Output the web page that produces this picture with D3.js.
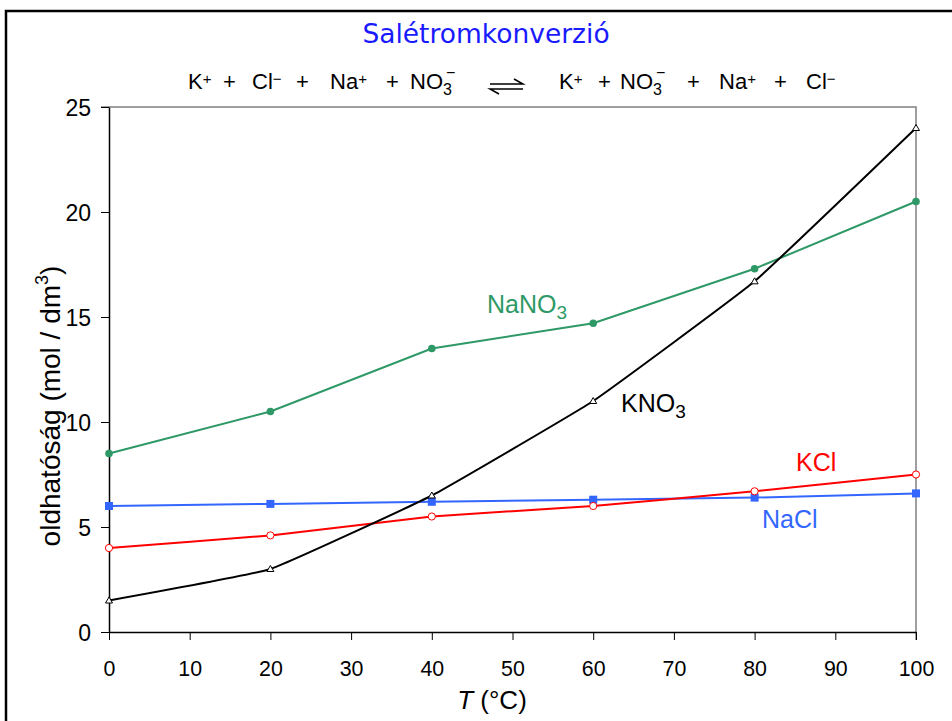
<!DOCTYPE html>
<html><head><meta charset="utf-8">
<script src="https://cdn.jsdelivr.net/npm/d3@7"></script>
<style>body{margin:0;background:#fff}svg{display:block}</style>
</head><body>
<svg id="c" width="952" height="721"></svg>
<script>
const temps = [0, 20, 40, 60, 80, 100];
const KNO3 = [1.5, 3.0, 6.5, 11.0, 16.7, 24.0];
const NaNO3 = [8.5, 10.5, 13.5, 14.7, 17.3, 20.5];
const KCl = [4.0, 4.6, 5.5, 6.0, 6.7, 7.5];
const NaCl = [6.0, 6.1, 6.2, 6.3, 6.4, 6.6];
const xTicks = [0,10,20,30,40,50,60,70,80,90,100];
const yTicks = [0,5,10,15,20,25];

const svg = d3.select("#c");
const F = "'Liberation Sans', Arial, Helvetica, sans-serif";
// outer frame
svg.append("rect").attr("x",6).attr("y",11).attr("width",960).attr("height",740)
  .attr("fill","none").attr("stroke","#000").attr("stroke-width",2.5);

const x = d3.scaleLinear().domain([0,100]).range([109,916]);
const y = d3.scaleLinear().domain([0,25]).range([632,107]);

// plot frame top/right (gray)
svg.append("path").attr("d",`M${x(0)},${y(25)}H${x(100)}V${y(0)+8}`)
  .attr("fill","none").attr("stroke","#808080").attr("stroke-width",1.5);
svg.append("line").attr("x1",x(0)-8).attr("x2",x(0)).attr("y1",y(25)).attr("y2",y(25))
  .attr("stroke","#808080").attr("stroke-width",1.5);

// axes
const gx = svg.append("g").attr("transform",`translate(0,${y(0)})`)
  .call(d3.axisBottom(x).tickValues(xTicks).tickSize(8).tickPadding(20).tickSizeOuter(0));
const gy = svg.append("g").attr("transform",`translate(${x(0)},0)`)
  .call(d3.axisLeft(y).tickValues(yTicks).tickSize(8).tickPadding(10).tickSizeOuter(0));
[gx,gy].forEach(g=>{
  g.select(".domain").attr("stroke","#000").attr("stroke-width",1.5);
  g.selectAll(".tick line").attr("stroke","#000").attr("stroke-width",1);
  g.selectAll(".tick text").attr("font-family",F).attr("font-size",23).attr("fill","#000");
});
gx.selectAll(".tick text").attr("transform","scale(0.93,1)");
gy.selectAll(".tick text").attr("dy","0.36em");

// axis titles
const xt = svg.append("text").attr("x",492).attr("y",709).attr("text-anchor","middle")
  .attr("font-family",F).attr("font-size",26);
xt.append("tspan").attr("font-style","italic").text("T");
xt.append("tspan").text(" (°C)");

const yt = svg.append("text").attr("transform","translate(60,406) rotate(-90)")
  .attr("text-anchor","middle").attr("font-family",F).attr("font-size",28);
yt.append("tspan").text("oldhatóság (mol / dm");
yt.append("tspan").attr("font-size",18).attr("dy",-12).text("3");
yt.append("tspan").attr("dy",12).text(")");

// title
svg.append("text").attr("x",486).attr("y",43).attr("text-anchor","middle")
  .attr("font-family","'DejaVu Sans',sans-serif").attr("font-size",26.5)
  .attr("fill","#1a1aff").text("Salétromkonverzió");

// equation
const eqY = 89;
const eq = svg.append("g").attr("font-family",F).attr("font-size",22).attr("fill","#000");
function ion(xp, base, sup){
  const t = eq.append("text").attr("x",xp).attr("y",eqY);
  t.append("tspan").text(base);
  t.append("tspan").attr("font-size",15).attr("dy",-5).text(sup);
}
function plus(xp){ eq.append("text").attr("x",xp).attr("y",eqY).text("+"); }
function nitrate(xp){
  const t = eq.append("text").attr("x",xp).attr("y",eqY);
  t.append("tspan").text("NO");
  t.append("tspan").attr("font-size",16).attr("dy",6).text("3");
  eq.append("text").attr("x",xp+36).attr("y",eqY-11).attr("font-size",16).text("−");
}
ion(188,"K","+"); plus(223); ion(252,"Cl","−"); plus(296); ion(330,"Na","+"); plus(386); nitrate(410);
ion(559,"K","+"); plus(598); nitrate(620); plus(687); ion(719,"Na","+"); plus(774); ion(806,"Cl","−");
// equilibrium arrows
eq.append("path").attr("d","M490,84H523L514,79").attr("fill","none").attr("stroke","#000").attr("stroke-width",1.5);
eq.append("path").attr("d","M523,89H490L499,94").attr("fill","none").attr("stroke","#000").attr("stroke-width",1.5);

// series
const series = [
  {name:"NaCl", vals:NaCl, color:"#3366ff", curve:d3.curveLinear, marker:"square"},
  {name:"KCl", vals:KCl, color:"#ff0000", curve:d3.curveCardinal.tension(0.7), marker:"ocircle"},
  {name:"NaNO3", vals:NaNO3, color:"#2e9966", curve:d3.curveLinear, marker:"circle"},
  {name:"KNO3", vals:KNO3, color:"#000000", curve:d3.curveCardinal.tension(0.7), marker:"triangle"},
];
series.forEach(s=>{
  const pts = temps.map((t,i)=>[t,s.vals[i]]);
  svg.append("path").datum(pts)
    .attr("d", d3.line().x(d=>x(d[0])).y(d=>y(d[1])).curve(s.curve))
    .attr("fill","none").attr("stroke",s.color).attr("stroke-width",2);
  const g = svg.append("g");
  pts.forEach(d=>{
    const cx = x(d[0]), cy = y(d[1]);
    if(s.marker==="square") g.append("rect").attr("x",cx-4).attr("y",cy-4).attr("width",8).attr("height",8).attr("fill",s.color);
    else if(s.marker==="circle") g.append("circle").attr("cx",cx).attr("cy",cy).attr("r",3.8).attr("fill",s.color);
    else if(s.marker==="ocircle") g.append("circle").attr("cx",cx).attr("cy",cy).attr("r",3.6).attr("fill","#fff").attr("stroke",s.color).attr("stroke-width",1);
    else g.append("path").attr("d",`M${cx},${cy-3.5}L${cx+3.5},${cy+2.5}L${cx-3.5},${cy+2.5}Z`).attr("fill","#fff").attr("stroke",s.color).attr("stroke-width",1);
  });
});

// series labels
function lab(xp, yp, color, base, sub){
  const t = svg.append("text").attr("x",xp).attr("y",yp).attr("font-family",F).attr("font-size",25).attr("fill",color);
  t.append("tspan").text(base);
  if(sub){ t.append("tspan").attr("font-size",19).attr("dy",6).text(sub); }
}
lab(487,313,"#2e9966","NaNO","3");
lab(621,412,"#000","KNO","3");
lab(796,471,"#ff0000","KCl");
lab(762,528,"#3366ff","NaCl");
</script>
</body></html>
